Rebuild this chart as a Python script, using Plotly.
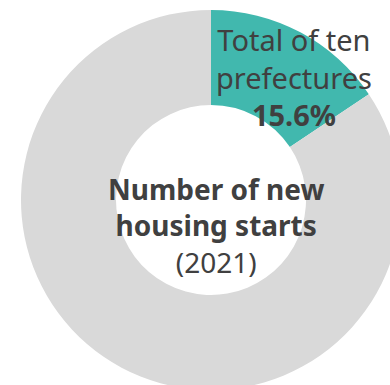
import plotly.graph_objects as go

# Share of new housing starts, 2021
labels = ["Total of ten prefectures", "Other prefectures"]
shares = [15.6, 84.4]
colors = ["#41B8AE", "#D9D9D9"]

center_title = ["Number of new", "housing starts"]
center_year = "(2021)"

TEXT = "#404040"
FONT = "Noto Sans"

fig = go.Figure(
    go.Pie(
        labels=labels,
        values=shares,
        hole=0.5,
        sort=False,
        direction="clockwise",
        rotation=0,
        marker=dict(colors=colors, line=dict(width=0)),
        textinfo="none",
        hoverinfo="label+percent",
        showlegend=False,
        domain=dict(x=[0, 1], y=[0, 1]),
    )
)

slice_label = f"{labels[0].replace('ten ', 'ten<br>')}<br><b>{shares[0]:.1f}%</b>"
center_label = f"<b>{center_title[0]}<br>{center_title[1]}</b><br>{center_year}"

fig.add_annotation(
    text=slice_label, x=0.718, y=0.824, xref="paper", yref="paper",
    xanchor="center", yanchor="middle",
    showarrow=False, align="center", font=dict(family=FONT, size=29, color=TEXT),
)
fig.add_annotation(
    text=center_label, x=0.513, y=0.432, xref="paper", yref="paper",
    xanchor="center", yanchor="middle",
    showarrow=False, align="center", font=dict(family=FONT, size=28, color=TEXT),
)

fig.update_layout(
    width=401,
    height=390,
    margin=dict(l=21, r=0, t=10, b=0),
    paper_bgcolor="white",
    plot_bgcolor="white",
)

fig.write_html(
    "out.html",
    post_script="document.documentElement.style.overflow='hidden';document.body.style.overflow='hidden';document.body.style.margin='0';",
)
